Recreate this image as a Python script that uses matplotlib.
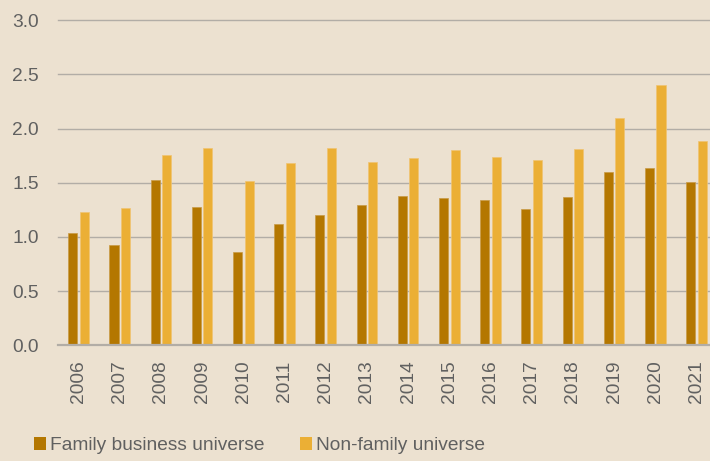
import numpy as np
import matplotlib
matplotlib.use("Agg")
import matplotlib.pyplot as plt
from matplotlib.patches import Patch

# Data
years = ['2006', '2007', '2008', '2009', '2010', '2011', '2012', '2013',
         '2014', '2015', '2016', '2017', '2018', '2019', '2020', '2021']
family = [1.04, 0.93, 1.53, 1.28, 0.86, 1.12, 1.20, 1.295,
          1.38, 1.36, 1.345, 1.255, 1.365, 1.60, 1.635, 1.51]
non_family = [1.23, 1.265, 1.76, 1.82, 1.52, 1.68, 1.825, 1.69,
              1.73, 1.80, 1.735, 1.71, 1.815, 2.095, 2.40, 1.885]
yticks = [0.0, 0.5, 1.0, 1.5, 2.0, 2.5, 3.0]
series_names = ['Family business universe', 'Non-family universe']

bg = '#ECE1D0'
c_family = '#B47700'
c_non = '#EBAF35'
grid_c = '#B2ADA6'
text_c = '#606060'

plt.rcParams['font.family'] = ['Liberation Sans', 'DejaVu Sans']

fig = plt.figure(figsize=(7.1, 4.61), dpi=100)
fig.patch.set_facecolor(bg)
ax = fig.add_axes([0.0817, 0.251, 0.9183, 0.705])
ax.set_facecolor(bg)

x = np.arange(len(years))
w = 0.22
ax.bar(x - 0.14, family, width=w, color=c_family, edgecolor='#C99A45', linewidth=0.5, zorder=3)
ax.bar(x + 0.14, non_family, width=w, color=c_non, edgecolor='#F0C472', linewidth=0.5, zorder=3)

ax.set_ylim(0, 3.0)
ax.set_xlim(-0.5, 15.33)
ax.set_yticks(yticks)
ax.set_yticklabels([f'{v:.1f}' for v in yticks])
ax.set_xticks(x)
ax.set_xticklabels(years, rotation=90)

for v in yticks:
    lw = 1.6 if v == 0 else 1.0
    ax.axhline(v, color=grid_c, linewidth=lw, zorder=1 if v else 4, clip_on=False)

for s in ax.spines.values():
    s.set_visible(False)
ax.tick_params(axis='both', length=0, labelsize=13.8, labelcolor=text_c)
ax.tick_params(axis='y', pad=14)
ax.tick_params(axis='x', pad=11)

handles = [Patch(facecolor=c_family), Patch(facecolor=c_non)]
fig.legend(handles, series_names, loc='center left', bbox_to_anchor=(34 / 710, 0.033),
           ncol=2, frameon=False, fontsize=13.8, labelcolor=text_c,
           handlelength=0.64, handleheight=0.64, handletextpad=0.2,
           columnspacing=1.85, borderpad=0, borderaxespad=0)

fig.savefig('out.png', dpi=100, facecolor=bg)
